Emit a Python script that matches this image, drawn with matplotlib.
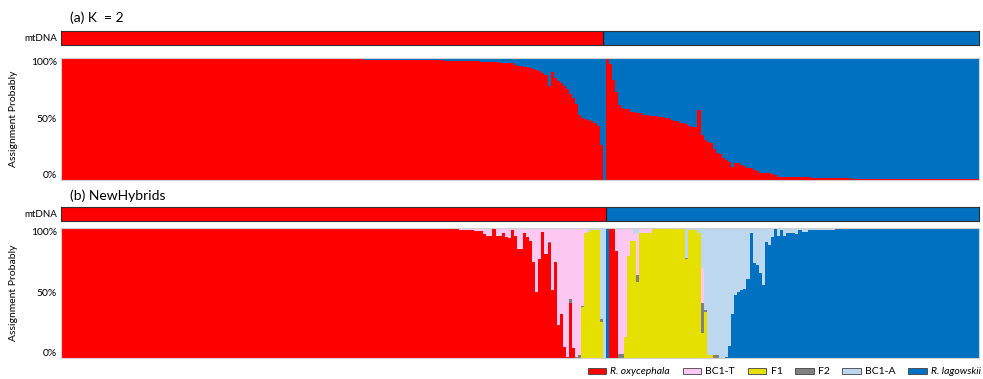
import matplotlib.pyplot as plt
import numpy as np
from matplotlib.patches import Patch

plt.rcParams['font.family'] = ['Lato', 'DejaVu Sans']

# ---- data: 300 individuals, left to right ----
n_ind = 300

# mtDNA haplotype per individual (R = R. oxycephala, L = R. lagowskii)
mtdna_a = ['R'] * 177 + ['L'] * 123
mtdna_b = ['R'] * 178 + ['L'] * 122

# (a) STRUCTURE K = 2, proportion assigned to R. oxycephala
oxy_a = ([0.992] * 88 + [0.99] * 11 + [0.985] * 13 + [0.982] * 13
         + [0.975] * 6 + [0.97] * 6 + [0.963] * 6 + [0.955] * 5
         + [0.94, 0.935, 0.93, 0.925, 0.92, 0.915]
         + [0.91, 0.90, 0.89, 0.875, 0.86, 0.77, 0.88, 0.83, 0.81, 0.79]
         + [0.77, 0.74, 0.70, 0.67, 0.62, 0.53, 0.51, 0.50, 0.49, 0.48, 0.47]
         + [0.44, 0.29, 0.0, 0.99, 0.95, 0.82, 0.72, 0.61, 0.59, 0.58, 0.58]
         + [0.56, 0.555, 0.55, 0.545, 0.535, 0.53, 0.525, 0.52, 0.52, 0.515, 0.515]
         + [0.51, 0.505, 0.49, 0.485, 0.48, 0.47, 0.465, 0.46, 0.44, 0.435, 0.43]
         + [0.575, 0.37, 0.33, 0.31, 0.30, 0.25, 0.22, 0.21, 0.18, 0.16, 0.15, 0.11]
         + [0.137, 0.135, 0.12, 0.115, 0.10, 0.095, 0.08, 0.07]
         + [0.06, 0.058, 0.056, 0.055, 0.045, 0.04]
         + [0.028] * 6 + [0.022] * 5 + [0.016] * 13 + [0.012] * 33 + [0.008] * 9)

# (b) NewHybrids posterior class probabilities
oxy_b = ([0.995] * 121 + [0.99] * 9 + [0.985, 0.985, 0.983, 0.98, 0.98, 0.978, 0.975]
         + [0.975, 0.95, 0.94, 0.94, 0.99, 0.94, 0.94, 0.96, 0.93, 0.92, 0.98, 0.94,
            0.84, 0.84, 0.96, 0.93, 0.90, 0.74, 0.51, 0.76, 0.97, 0.80, 0.88, 0.52,
            0.74, 0.25, 0.34, 0.087, 0.01, 0.42, 0.074]
         + [0] * 11 + [1.0, 1.0, 0.82] + [0] * 118)

lag_b = ([0] * 178 + [1.0] + [0] * 38
         + [0.01, 0.09, 0.34, 0.48, 0.51, 0.52, 0.53, 0.61, 0.96, 0.73, 0.71, 0.65,
            0.56, 0.89, 0.87, 0.93, 0.99, 0.94, 0.98, 0.94]
         + [0.96] * 3 + [0.95, 0.985, 0.97, 0.97] + [0.985] * 9 + [0.99] * 11 + [0.995] * 36)

f1_b = ([0] * 170 + [0.39, 0.96, 0.97, 0.985, 0.985, 0.985, 0.28] + [0] * 7
        + [0.16, 0.78, 0.9, 0.9, 0.585] + [0.96] * 4 + [0.99] * 11
        + [0.76, 0.98, 0.98, 0.98, 0.96, 0.19, 0.35, 0.02, 0.02] + [0] * 87)

f2_b = ([0] * 159 + [0.01] + [0] * 6 + [0.03] + [0] + [0.01, 0.02, 0.01] + [0] * 5
        + [0.02] + [0] * 5 + [0.03, 0.03] + [0] * 4 + [0.05] + [0] * 15 + [0.01]
        + [0] * 4 + [0.23, 0.02] + [0] * 2 + [0.02, 0.02] + [0] * 85)

bc1t_b = ([0.005] * 121 + [0.01] * 9 + [0.015, 0.015, 0.017, 0.02, 0.02, 0.022, 0.025]
          + [0.025, 0.05, 0.06, 0.06, 0.01, 0.06, 0.06, 0.04, 0.07, 0.08, 0.02, 0.06,
             0.16, 0.16, 0.04, 0.07, 0.10, 0.26, 0.49, 0.24, 0.03, 0.20, 0.11, 0.48,
             0.26, 0.75, 0.66, 0.913, 0.99, 0.55, 0.926]
          + [0.99, 0.98, 0.60, 0.04] + [0] * 9
          + [0.18, 0.97, 0.97, 0.84, 0.22, 0.10, 0.05, 0.325]
          + [0.03] * 4 + [0.01] * 11 + [0] * 5 + [0.27] + [0] * 90)

labels_b = ['R. oxycephala', 'BC1-T', 'F1', 'F2', 'BC1-A', 'R. lagowskii']
colors = {'R. oxycephala': '#FF0000', 'BC1-T': '#FCC8F2', 'F1': '#E6E000',
          'F2': '#808080', 'BC1-A': '#BDD7EE', 'R. lagowskii': '#0070C0'}

x = np.arange(n_ind)
oxy_a = np.array(oxy_a)
lag_a = 1 - oxy_a
# BC1-A takes whatever is left on top of each bar
bc1a_b = np.clip(1 - (np.array(oxy_b) + np.array(lag_b) + np.array(f1_b)
                      + np.array(f2_b) + np.array(bc1t_b)), 0, 1)

# stacking order bottom -> top
stack_b = [('R. oxycephala', oxy_b), ('R. lagowskii', lag_b), ('F1', f1_b),
           ('F2', f2_b), ('BC1-T', bc1t_b), ('BC1-A', bc1a_b)]

fig = plt.figure(figsize=(9.83, 3.79), dpi=100)
L, W = 61 / 983, 918 / 983


def mt_axis(bottom, mt):
    ax = fig.add_axes([L, bottom, W, 14.3 / 379])
    cols = [colors['R. oxycephala'] if m == 'R' else colors['R. lagowskii'] for m in mt]
    ax.bar(x, 1, width=1.0, align='edge', color=cols, linewidth=0)
    ax.axvline(mt.count('R'), color='#202020', lw=0.9)
    ax.set_xlim(0, n_ind)
    ax.set_ylim(0, 1)
    ax.set_xticks([])
    ax.set_yticks([0.5])
    ax.set_yticklabels(['mtDNA'], fontsize=7)
    ax.tick_params(axis='y', length=0, pad=3)
    for s in ax.spines.values():
        s.set_color('#303030')
        s.set_linewidth(0.8)
    return ax


def style_plot(ax):
    ax.set_xlim(0, n_ind)
    ax.set_ylim(0, 1)
    ax.set_xticks([])
    ax.set_yticks([0, 0.5, 1])
    ax.set_yticklabels(['0%', '50%', '100%'], fontsize=7.5)
    ax.tick_params(axis='y', length=0, pad=3)
    tl = ax.get_yticklabels()
    tl[0].set_va('bottom')
    tl[2].set_va('top')
    for s in ax.spines.values():
        s.set_color('#D0D0D0')
        s.set_linewidth(0.8)


# ---- (a) K = 2 ----
mt_axis(1 - 45 / 379, mtdna_a)
ax_a = fig.add_axes([L, 1 - 180 / 379, W, 122.3 / 379])
ax_a.bar(x, oxy_a, width=1.0, align='edge', color=colors['R. oxycephala'], linewidth=0)
ax_a.bar(x, lag_a, width=1.0, align='edge', bottom=oxy_a, color=colors['R. lagowskii'], linewidth=0)
style_plot(ax_a)

# ---- (b) NewHybrids ----
mt_axis(1 - 221 / 379, mtdna_b)
ax_b = fig.add_axes([L, 1 - 358 / 379, W, 130.3 / 379])
base = np.zeros(n_ind)
for name, vals in stack_b:
    vals = np.array(vals, dtype=float)
    ax_b.bar(x, vals, width=1.0, align='edge', bottom=base, color=colors[name], linewidth=0)
    base = base + vals
style_plot(ax_b)

fig.text(70 / 983, 1 - 18 / 379, '(a) K  = 2', fontsize=10, va='center')
fig.text(70 / 983, 1 - 196 / 379, '(b) NewHybrids', fontsize=10, va='center')
fig.text(14 / 983, 1 - 119 / 379, 'Assignment Probably', fontsize=7.5, rotation=90, ha='center', va='center')
fig.text(14 / 983, 1 - 293 / 379, 'Assignment Probably', fontsize=7.5, rotation=90, ha='center', va='center')

handles = [Patch(facecolor=colors[k], edgecolor='#404040', linewidth=0.6) for k in labels_b]
leg = fig.legend(handles, labels_b, ncol=6, loc='center right', bbox_to_anchor=(981 / 983, 1 - 372 / 379),
                 frameon=False, fontsize=7.5, handlelength=1.8, handleheight=0.6,
                 handletextpad=0.4, columnspacing=1.2, borderaxespad=0, borderpad=0)
for t in leg.get_texts():
    if t.get_text().startswith('R.'):
        t.set_style('italic')

fig.savefig('out.png', dpi=100)
